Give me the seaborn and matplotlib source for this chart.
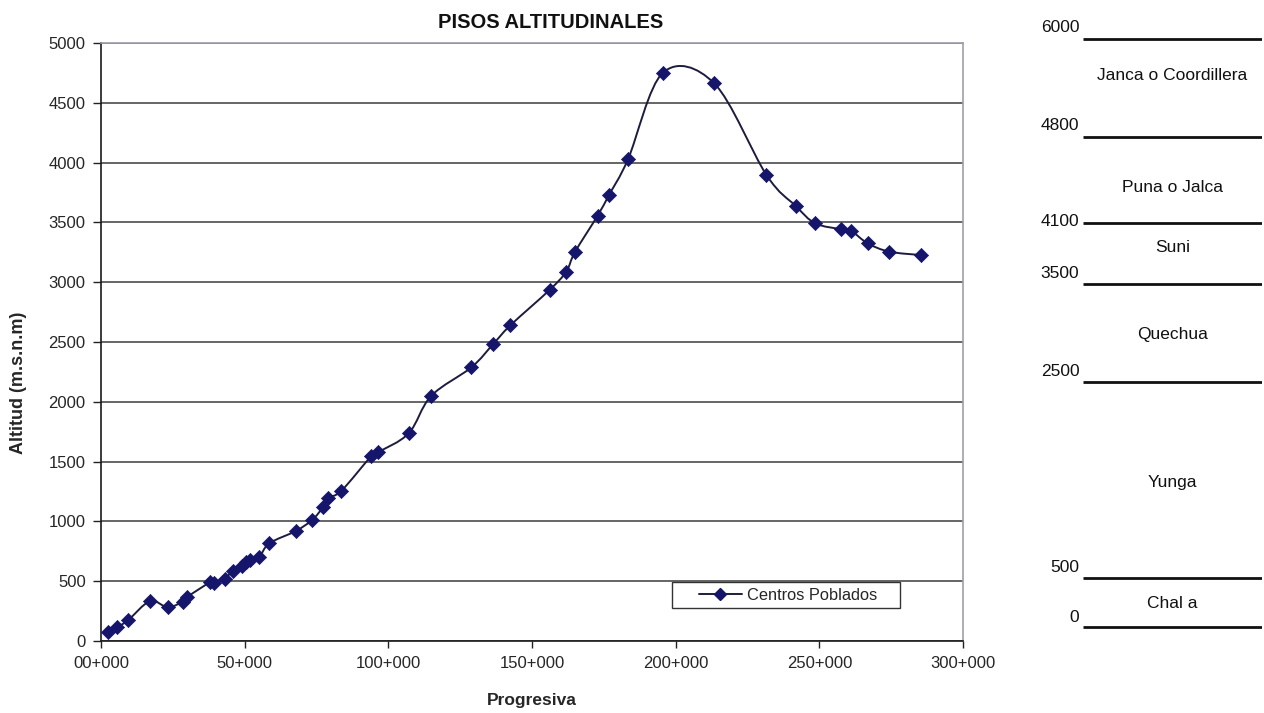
import numpy as np
import pandas as pd
import matplotlib
matplotlib.use("Agg")
import matplotlib.pyplot as plt
from matplotlib.path import Path
from matplotlib.patches import PathPatch, Rectangle
from matplotlib.lines import Line2D
import seaborn as sns

# ---------------- data ----------------
progresiva_km = [2.5, 5.7, 9.5, 17.1, 23.2, 28.5, 29.8, 38.0, 39.4, 43.0, 45.9, 49.1,
                 50.3, 51.7, 55.1, 58.6, 67.8, 73.5, 77.2, 79.0, 83.6, 94.1, 96.4,
                 107.1, 114.9, 128.9, 136.5, 142.5, 156.1, 161.9, 164.9, 172.8, 176.8,
                 183.4, 195.6, 213.4, 231.6, 241.8, 248.5, 257.5, 261.0, 266.8, 274.4,
                 285.4]
altitud = [78, 115, 176, 334, 282, 329, 365, 491, 485, 518, 588, 630,
           661, 677, 705, 817, 920, 1012, 1118, 1198, 1254, 1547, 1578,
           1737, 2049, 2288, 2483, 2640, 2935, 3088, 3250, 3555, 3729,
           4027, 4752, 4663, 3896, 3637, 3493, 3443, 3431, 3325, 3255,
           3227]
series_name = "Centros Poblados"
x_ticks = [0, 50, 100, 150, 200, 250, 300]
x_tick_labels = ["00+000", "50+000", "100+000", "150+000", "200+000", "250+000", "300+000"]
y_ticks = [0, 500, 1000, 1500, 2000, 2500, 3000, 3500, 4000, 4500, 5000]

pisos_levels = ["6000", "4800", "4100", "3500", "2500", "500", "0"]
pisos_names = ["Janca o Coordillera", "Puna o Jalca", "Suni", "Quechua", "Yunga", "Chal a"]

# ---------------- layout (pixel positions of right-hand schematic) ----------------
W, H = 1264, 713
level_line_px = [39, 137, 223, 284, 382, 578, 627]
level_label_px = [27, 125, 222, 273, 372, 568, 617]
name_px = [76, 187, 248, 334, 483, 603]

sns.set_theme(style="white")
plt.rcParams["font.family"] = ["Liberation Sans", "DejaVu Sans"]

fig = plt.figure(figsize=(W / 100, H / 100), dpi=100)
AX_L, AX_R, AX_T, AX_B = 101, 963, 43, 641
ax = fig.add_axes([AX_L / W, 1 - AX_B / H, (AX_R - AX_L) / W, (AX_B - AX_T) / H])
AW, AH = AX_R - AX_L, AX_B - AX_T

df = pd.DataFrame({"x": progresiva_km, "y": altitud})

line_color = "#1c1c3c"
marker_color = "#15156b"

# smooth line (Excel-style) via Catmull-Rom -> cubic Bezier path in data coordinates
pts = df[["x", "y"]].to_numpy(dtype=float)
verts = [tuple(pts[0])]
codes = [Path.MOVETO]
n = len(pts)
for i in range(n - 1):
    p0 = pts[i - 1] if i > 0 else pts[i]
    p1 = pts[i]
    p2 = pts[i + 1]
    p3 = pts[i + 2] if i + 2 < n else pts[i + 1]
    c1 = p1 + (p2 - p0) / 6.0
    c2 = p2 - (p3 - p1) / 6.0
    verts += [tuple(c1), tuple(c2), tuple(p2)]
    codes += [Path.CURVE4, Path.CURVE4, Path.CURVE4]
ax.add_patch(PathPatch(Path(verts, codes), facecolor="none", edgecolor=line_color,
                       lw=1.4, zorder=3))

sns.scatterplot(data=df, x="x", y="y", marker="D", s=52, color=marker_color,
                edgecolor=marker_color, linewidth=0.5, ax=ax, zorder=4, legend=False)

ax.set_xlim(0, 300)
ax.set_ylim(0, 5000)
ax.set_xticks(x_ticks)
ax.set_xticklabels(x_tick_labels, fontsize=12)
ax.set_yticks(y_ticks)
ax.set_yticklabels([str(v) for v in y_ticks], fontsize=12)
ax.tick_params(axis="x", which="major", direction="out", length=5, width=1,
               color="#222222", pad=6, bottom=True)
ax.tick_params(axis="y", which="major", direction="out", length=6, width=1,
               color="#222222", pad=5, left=True)
ax.yaxis.grid(True, color="#3c3c3c", lw=1.1)
ax.xaxis.grid(False)
ax.set_axisbelow(True)
for side in ["left", "bottom"]:
    ax.spines[side].set_color("#1a1a1a")
    ax.spines[side].set_linewidth(1.2)
for side in ["top", "right"]:
    ax.spines[side].set_color("#a39cab")
    ax.spines[side].set_linewidth(1.2)
    ax.spines[side].set_visible(True)

ax.set_xlabel("Progresiva", fontsize=12.5, fontweight="bold")
ax.xaxis.set_label_coords(0.5, -(693 - AX_B) / AH)
ax.set_ylabel("Altitud (m.s.n.m)", fontsize=13, fontweight="bold")
ax.yaxis.set_label_coords(-(AX_L - 27) / AW, (AX_B - 383) / AH)
fig.text(551 / W, 1 - 22 / H, "PISOS ALTITUDINALES", ha="center", va="center",
         fontsize=14.5, fontweight="bold", color="#111111")

# legend: framed box as in the reference, contents centred inside it
box_l, box_r, box_t, box_b = 672, 900, 582, 608
ax.add_patch(Rectangle(((box_l - AX_L) / AW, (AX_B - box_b) / AH),
                       (box_r - box_l) / AW, (box_b - box_t) / AH,
                       transform=ax.transAxes, facecolor="white",
                       edgecolor="#333333", lw=1.0, zorder=5))
handle = Line2D([0], [0], color=line_color, lw=1.4, marker="D", markersize=6.5,
                markerfacecolor=marker_color, markeredgecolor=marker_color)
leg = ax.legend([handle], [series_name], loc="center",
                bbox_to_anchor=(((box_l + box_r) / 2 + 2 - AX_L) / AW,
                                (AX_B - (box_t + box_b) / 2) / AH),
                frameon=False, fontsize=11.8, handlelength=2.6,
                handletextpad=0.3, borderpad=0.0, borderaxespad=0)
leg.set_zorder(6)

# ---------------- right-hand schematic of altitude zones ----------------
ax2 = fig.add_axes([1083 / W, 0, (1262 - 1083) / W, 1])
ax2.set_xlim(0, 1)
ax2.set_ylim(H, 0)
ax2.axis("off")
ax2.hlines(level_line_px, 0, 1, colors="#111111", lw=2.0)
for lab, yp in zip(pisos_levels, level_label_px):
    ax2.text(-0.02, yp, lab, ha="right", va="center", fontsize=12.5, color="#111111")
for nm, yp in zip(pisos_names, name_px):
    ax2.text(0.5, yp, nm, ha="center", va="center", fontsize=12.5, color="#111111")

fig.savefig("out.png", dpi=100)
